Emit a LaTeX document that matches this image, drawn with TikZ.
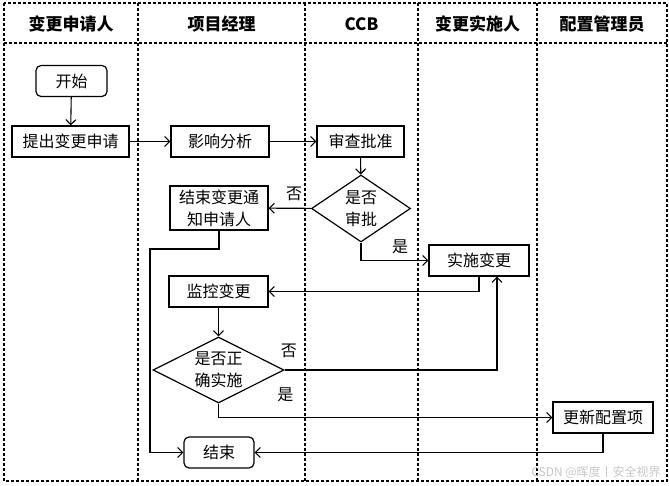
\documentclass[tikz,border=0pt]{standalone}
\usepackage{fontspec}
\setmainfont{Noto Sans CJK SC}
\usetikzlibrary{arrows.meta}
\usetikzlibrary{shapes.geometric}

\tikzset{
  lane/.style={line width=1.3pt, dash pattern=on 3pt off 2pt},
  box/.style={draw, line width=1.2pt, minimum height=31pt, inner sep=2pt, align=center,
    font=\fontsize{16}{22}\selectfont},
  endbox/.style={box, rounded corners=5pt},
  decision/.style={draw, diamond, line width=1.2pt, inner sep=0pt, align=center,
    font=\fontsize{16}{22}\selectfont},
  flow/.style={-{Straight Barb[length=5pt,width=10pt]}, line width=1.1pt},
  answer/.style={font=\fontsize{16}{16}\selectfont}
}

\begin{document}
\begin{tikzpicture}[x=1pt,y=-1pt]
\useasboundingbox (0,0) rectangle (669,486);

% Swimlanes and header row
\draw[lane] (4,3) rectangle (667,481);
\draw[lane] (4,43) -- (667,43);
\foreach \x in {138,305,418,537}{
  \draw[lane] (\x,3) -- (\x,481);
}
\foreach \x/\t [count=\n] in {71/变更申请人,221.5/项目经理,361.5/CCB,477.5/变更实施人,602/配置管理员}{
  \node[font=\bfseries\fontsize{17}{17}\selectfont] (head\n) at (\x,24) {\t};
}

% Steps
\node[endbox, minimum width=71pt] (start) at (71.5,81) {开始};
\node[box, minimum width=117pt] (apply) at (70.5,141.5) {提出变更申请};
\node[box, minimum width=98pt] (analyse) at (220,141.5) {影响分析};
\node[box, minimum width=87pt] (review) at (360.5,141.5) {审查批准};
\node[decision, aspect=1.5, minimum width=99pt, minimum height=67pt] (approve) at (361,208.5) {是否\\审批};
\node[box, minimum width=98pt, minimum height=44pt] (notify) at (219,208) {结束变更通\\知申请人};
\node[box, minimum width=100pt] (implement) at (479,260.5) {实施变更};
\node[box, minimum width=99pt] (monitor) at (218.5,291.5) {监控变更};
\node[decision, aspect=2, minimum width=131pt, minimum height=66pt] (check) at (218.5,370) {是否正\\确实施};
\node[box, minimum width=100pt] (update) at (603,417.5) {更新配置项};
\node[endbox, minimum width=70pt] (finish) at (219,452.5) {结束};
\coordinate (detour) at (150,249);

% Connectors
\draw[flow] (start) -- (apply);
\draw[flow] (apply) -- (analyse);
\draw[flow] (analyse) -- (review);
\draw[flow] (review) -- (approve);
\draw[flow] (approve) -- node[answer, pos=0.4, above=4pt] {否} (notify);
\draw[flow] (approve.south) |- node[answer, pos=0.79, above=3pt] {是} (implement.west);
\draw[flow] (implement.south) |- (monitor.east);
\draw[flow] (monitor) -- (check);
\draw[flow] (check.east) -| node[answer, pos=0.01, above=8pt] {否} ([xshift=18pt]implement.south);
\draw[flow] (check.south) |- node[answer, pos=0.6, above=12pt] {是} (update.west);
\draw[flow] (update.south) |- (finish.east);
\draw[flow] (notify.south) |- (detour) |- (finish.west);

\node[text=gray!45, font=\fontsize{12}{12}\selectfont] (mark) at (596,472) {CSDN @晖度丨安全视界};
\end{tikzpicture}
\end{document}
